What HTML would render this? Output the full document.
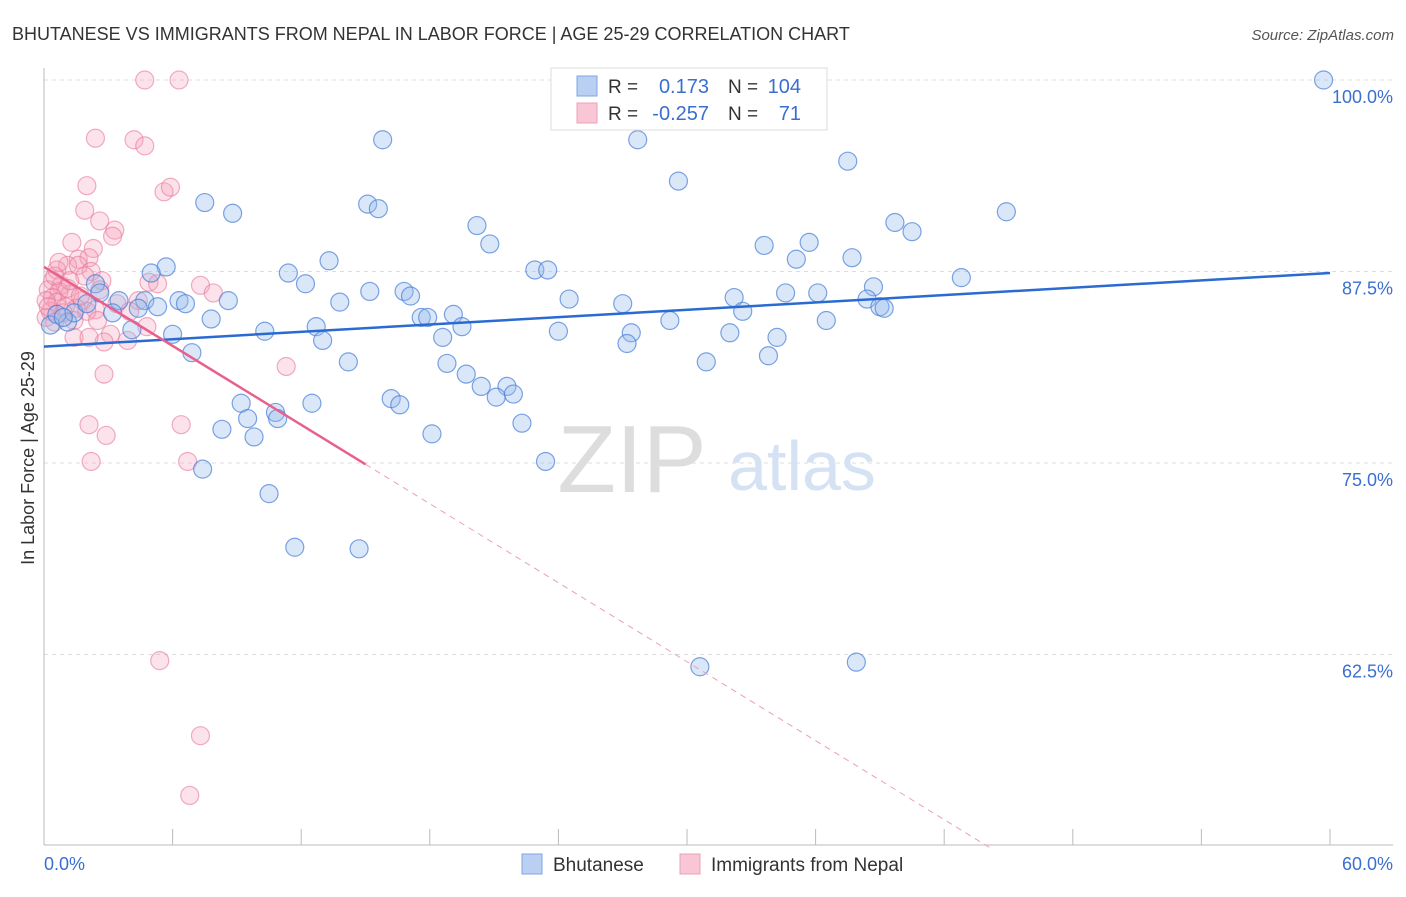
<!DOCTYPE html>
<html><head><meta charset="utf-8"><style>
body{margin:0;background:#fff;font-family:"Liberation Sans",sans-serif}
svg text{font-family:"Liberation Sans",sans-serif}
</style></head><body>
<svg id="chart" width="1406" height="892" viewBox="0 0 1406 892" xmlns="http://www.w3.org/2000/svg">
<text x="12" y="40" font-size="18" fill="#333">BHUTANESE VS IMMIGRANTS FROM NEPAL IN LABOR FORCE | AGE 25-29 CORRELATION CHART</text>
<text x="1394" y="40" font-size="15" fill="#555" font-style="italic" text-anchor="end">Source: ZipAtlas.com</text>
<text x="34" y="458" font-size="18" fill="#333" text-anchor="middle" transform="rotate(-90 34 458)">In Labor Force | Age 25-29</text>
<g id="grid"></g>
<g><text x="632" y="492" font-size="96" fill="#ddd" font-family="Liberation Serif" text-anchor="middle">ZIP</text><text x="802" y="490" font-size="70" fill="#d4e2f4" text-anchor="middle">atlas</text></g>
<g id="axes"></g>
<g id="pinkPts"></g>
<g id="bluePts"></g>
<g id="trends"></g>
<g>
<rect x="551" y="68" width="276" height="62" fill="#fff" stroke="#ddd"/>
<rect x="577" y="76" width="20" height="20" fill="#b9d0f3" stroke="#7fa6e0"/>
<text x="608" y="93" font-size="19" fill="#333">R =</text><text x="709" y="93" font-size="20" fill="#3a6fd0" text-anchor="end">0.173</text>
<text x="728" y="93" font-size="19" fill="#333">N =</text><text x="801" y="93" font-size="20" fill="#3a6fd0" text-anchor="end">104</text>
<rect x="577" y="103" width="20" height="20" fill="#f9c6d5" stroke="#eda0b8"/>
<text x="608" y="120" font-size="19" fill="#333">R =</text><text x="709" y="120" font-size="20" fill="#3a6fd0" text-anchor="end">-0.257</text>
<text x="728" y="120" font-size="19" fill="#333">N =</text><text x="801" y="120" font-size="20" fill="#3a6fd0" text-anchor="end">71</text>
</g>
<g>
<rect x="522" y="854" width="20" height="20" fill="#b9d0f3" stroke="#7fa6e0"/><text x="553" y="871" font-size="19" fill="#333">Bhutanese</text>
<rect x="680" y="854" width="20" height="20" fill="#f9c6d5" stroke="#eda0b8"/><text x="711" y="871" font-size="19" fill="#333">Immigrants from Nepal</text>
</g>
</svg>
<script>
const xTicks=[0,6,12,18,24,30,36,42,48,54,60];
const yTicks=[100,87.5,75,62.5];
const yTickLabels=["100.0%","87.5%","75.0%","62.5%"];
const blueX=[59.7,15.8,27.7,37.5,29.6,7.5,15.1,15.6,8.8,44.9,39.7,20.2,40.5,20.8,33.6,35.7,13.3,37.7,35.1,5.7,5.0,22.9,23.5,11.4,42.8,12.2,2.4,38.7,15.2,16.8,17.1,34.6,36.1,32.2,3.5,4.7,6.3,8.6,13.8,24.5,27.0,38.4,39.0,39.2,5.3,4.4,6.6,3.2,32.6,19.1,17.6,17.9,7.8,29.2,36.5,1.1,12.7,19.5,4.1,6.0,10.3,24.0,27.4,32.0,18.6,13.0,34.2,27.2,6.9,33.8,30.9,14.2,18.8,19.7,20.4,21.6,21.1,21.9,16.2,16.6,9.2,12.5,10.8,10.9,9.5,22.3,8.3,9.8,18.1,23.4,7.4,10.5,11.7,14.7,30.6,37.9,0.3,0.6,1.4,2.0,2.6,0.9];
const blueY=[100,96.1,96.1,94.7,93.4,92.0,91.9,91.6,91.3,91.4,90.7,90.5,90.1,89.3,89.2,89.4,88.2,88.4,88.3,87.8,87.4,87.6,87.6,87.4,87.1,86.7,86.7,86.5,86.2,86.2,85.9,86.1,86.1,85.8,85.6,85.6,85.6,85.6,85.5,85.7,85.4,85.7,85.2,85.1,85.2,85.1,85.4,84.8,84.9,84.7,84.5,84.5,84.4,84.3,84.3,84.2,83.9,83.9,83.7,83.4,83.6,83.6,83.5,83.5,83.2,83.0,83.2,82.8,82.2,82.0,81.6,81.6,81.5,80.8,80.0,80.0,79.3,79.5,79.2,78.8,78.9,78.9,78.3,77.9,77.9,77.6,77.2,76.7,76.9,75.1,74.6,73.0,69.5,69.4,61.7,62.0,84.0,84.7,84.8,85.4,86.1,84.5];
const pinkX=[4.7,6.3,2.4,4.2,4.7,2.0,5.6,5.9,1.9,2.6,3.3,3.2,1.3,2.3,1.6,2.1,1.1,0.6,1.6,2.2,2.7,0.4,0.8,0.2,0.7,1.2,0.4,0.6,1.8,1.0,0.3,1.5,2.4,2.0,0.1,0.9,1.4,2.5,4.4,4.9,5.3,7.3,7.9,4.8,3.1,3.9,2.8,1.4,2.1,2.8,2.1,6.4,2.9,2.2,6.7,11.3,5.4,7.3,6.8,0.1,0.5,1.1,1.7,2.6,3.4,4.0,0.7,1.9,0.2,0.5,1.2];
const pinkY=[100,100,96.2,96.1,95.7,93.1,92.7,93.0,91.5,90.8,90.2,89.8,89.4,89.0,88.3,88.4,87.9,87.6,87.9,87.5,86.9,86.9,86.6,86.3,86.2,86.0,85.8,85.5,85.6,85.2,84.9,85.1,85.0,84.9,84.5,84.8,84.3,84.3,85.6,86.8,86.7,86.6,86.1,83.9,83.4,83.0,82.9,83.2,83.2,80.8,77.5,77.5,76.8,75.1,75.1,81.3,62.1,57.2,53.3,85.6,87.2,86.4,85.9,86.3,85.4,84.9,88.1,87.2,85.2,84.2,86.9];
const blueTrend=[82.6,87.4];
const pinkTrend=[87.8,-0.859];
const NS="http://www.w3.org/2000/svg";
const X=v=>44+(v/60)*1286;
const Y=v=>80+(100-v)*15.32;
function mk(tag,attrs,parent){const e=document.createElementNS(NS,tag);for(const k in attrs)e.setAttribute(k,attrs[k]);parent.appendChild(e);return e;}
const grid=document.getElementById('grid'),axes=document.getElementById('axes');
yTicks.forEach((t,i)=>{
 const l=mk('line',{x1:44,x2:1393,y1:Y(t),y2:Y(t),stroke:'#ddd','stroke-dasharray':'4,4'},grid);
 
 
 const tx=mk('text',{x:1393,y:Y(t)+23,'font-size':18,fill:'#3a6fd0','text-anchor':'end'},axes);
 tx.textContent=yTickLabels[i];
 
 
});
mk('line',{x1:44,x2:44,y1:68,y2:845,stroke:'#bbb'},axes);
mk('line',{x1:44,x2:1393,y1:845,y2:845,stroke:'#bbb'},axes);
xTicks.forEach(t=>{const l=mk('line',{x1:X(t),x2:X(t),y1:829,y2:845,stroke:'#bbb'},axes);
 
 });
let a=mk('text',{x:44,y:870,'font-size':18,fill:'#3a6fd0'},axes);a.textContent='0.0%';

a=mk('text',{x:1393,y:870,'font-size':18,fill:'#3a6fd0','text-anchor':'end'},axes);a.textContent='60.0%';

const pp=document.getElementById('pinkPts');
pinkX.forEach((x,i)=>{const c=mk('circle',{cx:X(x),cy:Y(pinkY[i]),r:9,fill:'rgba(244,160,185,0.3)',stroke:'rgba(232,120,155,0.6)','stroke-width':1.2},pp);
 
 });
const bp=document.getElementById('bluePts');
blueX.forEach((x,i)=>{const c=mk('circle',{cx:X(x),cy:Y(blueY[i]),r:9,fill:'rgba(150,185,235,0.35)',stroke:'rgba(70,125,215,0.7)','stroke-width':1.2},bp);
 
 });
const tr=document.getElementById('trends');
let t1=mk('line',{x1:X(0),y1:Y(blueTrend[0]),x2:X(60),y2:Y(blueTrend[1]),stroke:'#2a6bd1','stroke-width':2.5},tr);

const pv=x=>pinkTrend[0]+pinkTrend[1]*x;
let t2=mk('line',{x1:X(0),y1:Y(pv(0)),x2:X(15),y2:Y(pv(15)),stroke:'#e8608e','stroke-width':2.5},tr);

let t3=mk('line',{x1:X(15),y1:Y(pv(15)),x2:X(44.1),y2:Y(pv(44.1)),stroke:'#eaa0b8','stroke-width':1,'stroke-dasharray':'6,5'},tr);

</script>
</body></html>
